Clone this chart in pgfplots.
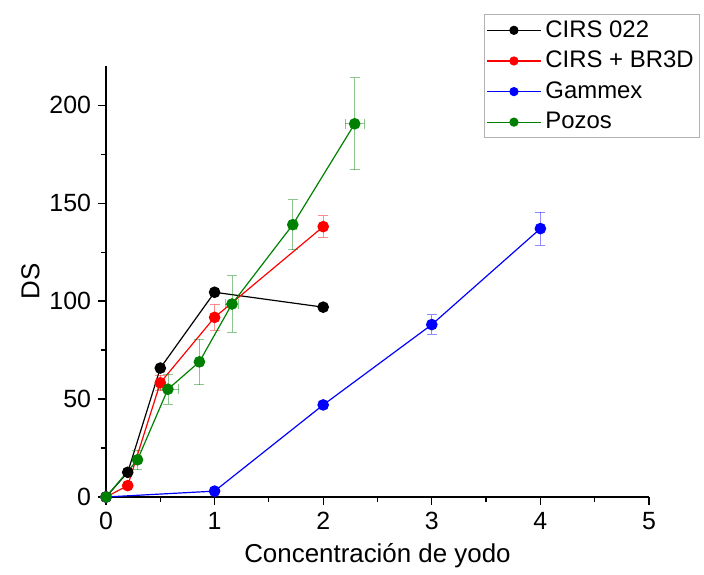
\documentclass[border=0pt]{standalone}
\usepackage{pgfplots}
\pgfplotsset{compat=1.18}
\usepackage{fontspec}
\setmainfont{Liberation Sans}

\definecolor{okgreen}{RGB}{0,128,0}

% x  y  ex  ey
\pgfplotstableread{
x y ex ey
0 0 0 0
0.2 12.6 0 0
0.5 65.8 0 0
1.0 104.5 0 0
2.0 96.9 0 0
}\cirs
\pgfplotstableread{
x y ex ey
0 0 0 0
0.2 5.8 0 1
0.5 58.3 0 4
1.0 91.7 0 6.5
2.0 138 0 5.5
}\cirsbr
\pgfplotstableread{
x y ex ey
0 0 0 0
1.0 3 0 0.8
2.0 47 0 2
3.0 88 0 5
4.0 137 0 8.4
}\gammex
\pgfplotstableread{
x y ex ey
0 0 0 0
0.29 19 0.02 5
0.57 55 0.1 7.6
0.86 69 0.03 11.6
1.16 98.5 0.06 14.5
1.72 139 0.03 12.7
2.29 190.5 0.085 23.5
}\pozos

\begin{document}
\begin{tikzpicture}
\begin{axis}[
  scale only axis, width=271.5bp, height=215.5bp,
  xmin=0, xmax=5, ymin=0, ymax=220,
  axis lines=left, axis line style={-, black, line width=0.6pt},
  xtick={0,1,2,3,4,5}, ytick={0,50,100,150,200}, minor tick num=1,
  tick align=outside, major tick length=4bp, minor tick length=2.5bp,
  every tick/.style={black, line width=0.6pt},
  clip=false,
  /pgf/number format/assume math mode=true,
  ticklabel style={font=\fontsize{12.5}{14}\selectfont},
  xlabel={Concentración de yodo}, ylabel={DS},
  label style={font=\fontsize{13}{15}\selectfont},
  ylabel style={yshift=-2bp},
  legend style={at={(rel axis cs:0.696,1.1206)}, anchor=north west,
    draw=gray!60, line width=0.5pt, font=\fontsize{12}{14}\selectfont,
    inner sep=1pt, row sep=1.5pt},
  legend cell align=left,
  legend image code/.code={\draw[mark repeat=2,mark phase=2,mark size=2bp,#1] plot coordinates {(0cm,0cm) (0.475cm,0cm) (0.95cm,0cm)};},
  every axis plot/.append style={line width=0.6pt, mark=*, mark size=2.6bp},
  error bars/error bar style={line width=0.4pt, opacity=0.45},
  error bars/error mark options={rotate=90, mark size=2.5bp, line width=0.4pt, opacity=0.45},
]
\addplot[black, mark options={fill=black}] table[x=x, y=y] {\cirs};
\addlegendentry{CIRS 022}
\addplot[red, mark options={fill=red},
  error bars/.cd, y dir=both, y explicit]
  table[x=x, y=y, y error=ey] {\cirsbr};
\addlegendentry{CIRS + BR3D}
\addplot[blue, mark options={fill=blue},
  error bars/.cd, y dir=both, y explicit]
  table[x=x, y=y, y error=ey] {\gammex};
\addlegendentry{Gammex}
\addplot[okgreen, mark options={fill=okgreen},
  error bars/.cd, y dir=both, y explicit, x dir=both, x explicit]
  table[x=x, y=y, x error=ex, y error=ey] {\pozos};
\addlegendentry{Pozos}
\end{axis}
\path[use as bounding box] (-53bp,-37bp) rectangle (299bp,248.5bp);
\end{tikzpicture}
\end{document}
